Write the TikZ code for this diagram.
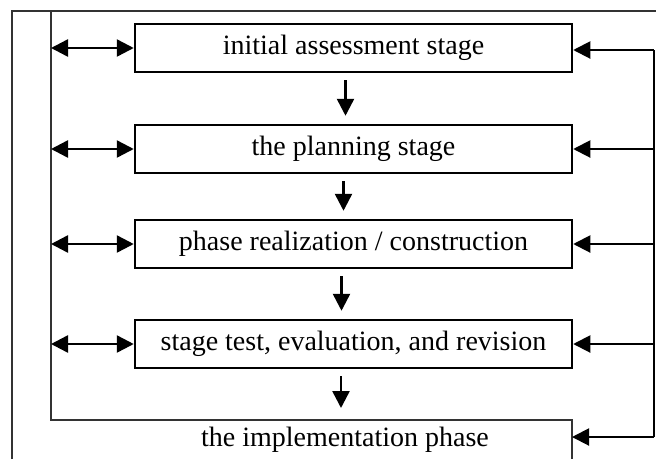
\documentclass[tikz,border=0pt]{standalone}
\usepackage{fontspec}
\setmainfont{Liberation Serif}
\usetikzlibrary{arrows.meta}
\begin{document}
\begin{tikzpicture}[x=1pt,y=-1pt,
  stagebox/.style={draw=black,line width=2.5pt,minimum width=437pt,minimum height=48pt,inner sep=0pt,font=\fontsize{28}{32}\selectfont},
  plain/.style={font=\fontsize{28}{32}\selectfont,inner sep=0pt},
  thinline/.style={line width=1.2pt,draw=black!80},
  tip/.style={-{Triangle[length=17pt,width=17pt]},line width=2.5pt},
  dtip/.style={{Triangle[length=17pt,width=17pt]}-{Triangle[length=17pt,width=17pt]},line width=2.5pt},
  rtip/.style={-{Triangle[length=17pt,width=17pt]},line width=2pt}]
\useasboundingbox (0,0) rectangle (656,459);
% frame lines
\coordinate (tl) at (12,11);
\coordinate (tr) at (656,11);
\coordinate (bl) at (12,459);
\draw[thinline] (bl) -- (tl) -- (tr);
% left bar
\coordinate (lt) at (51,11);
\coordinate (lb) at (51,420);
\coordinate (rb) at (572,420);
\coordinate (rbb) at (572,459);
\draw[thinline,line width=1.5pt] (lt) -- (lb) -- (rb) -- (rbb);
% boxes
\node[stagebox] (b1) at (353.5,48) {initial assessment stage};
\node[stagebox] (b2) at (353.5,149) {the planning stage};
\node[stagebox] (b3) at (353.5,244) {phase realization / construction};
\node[stagebox] (b4) at (353.5,344) {stage test, evaluation, and revision};
\node[plain] (b5) at (345,440) {the implementation phase};
% vertical arrows
\draw[tip] ([xshift=-8pt,yshift=-7pt]b1.south) -- ([xshift=-8pt,yshift=8pt]b2.north);
\draw[tip] ([xshift=-10pt,yshift=-7pt]b2.south) -- ([xshift=-10pt,yshift=8pt]b3.north);
\draw[tip] ([xshift=-12pt,yshift=-7pt]b3.south) -- ([xshift=-12pt,yshift=8pt]b4.north);
\coordinate (b5top) at (341,420);
\draw[tip] ([xshift=-12.5pt,yshift=-7pt]b4.south) -- ([yshift=12pt]b5top);
% left double arrows
\foreach \n in {b1,b2,b3,b4}{
  \draw[dtip] (51,0 |- \n.west) -- (\n.west);
}
% right feedback line
\coordinate (rt) at (654,50);
\coordinate (rbot) at (654,437);
\coordinate (b5r) at (572,437);
\draw[line width=2pt,draw=black] (rt) -- (rbot);
\draw[rtip] (rt) -- (rt -| b1.east);
\foreach \n in {b2,b3,b4}{
  \draw[rtip] (rt |- \n.east) -- (\n.east);
}
\draw[rtip] (rbot) -- (b5r);
\end{tikzpicture}
\end{document}
